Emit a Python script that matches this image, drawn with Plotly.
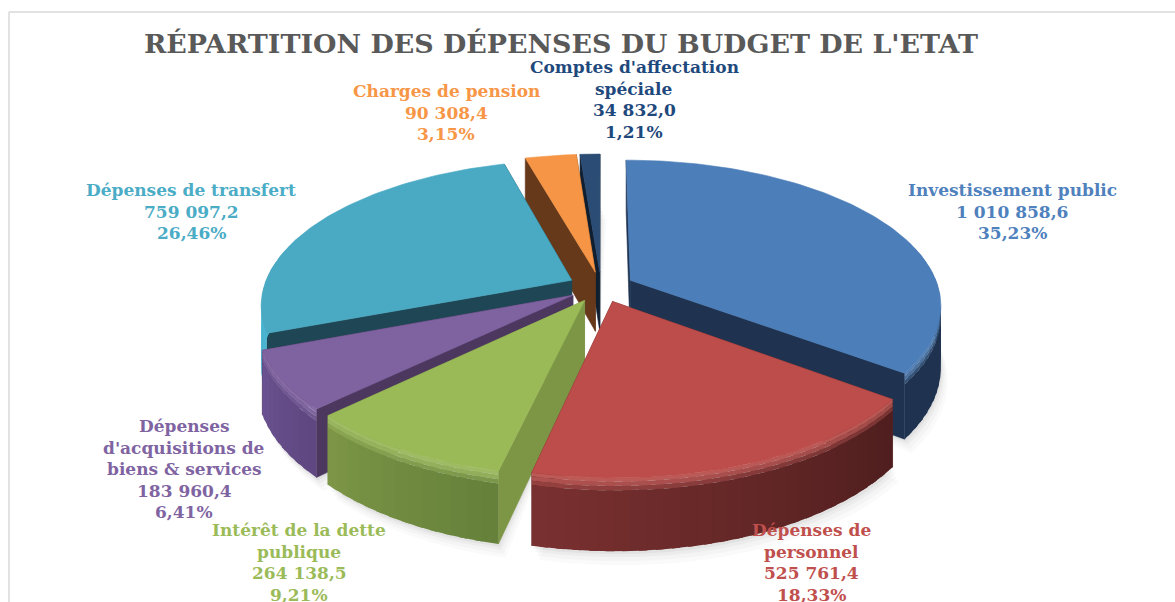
import math
import plotly.graph_objects as go

# ---- data ----
categories = ["Investissement public", "Dépenses de personnel", "Intérêt de la dette publique",
              "Dépenses d'acquisitions de biens & services", "Dépenses de transfert",
              "Charges de pension", "Comptes d'affectation spéciale"]
values = [1010858.6, 525761.4, 264138.5, 183960.4, 759097.2, 90308.4, 34832.0]
percents = [35.23, 18.33, 9.21, 6.41, 26.46, 3.15, 1.21]
title_text = "RÉPARTITION DES DÉPENSES DU BUDGET DE L'ETAT"

# ---- label wrapping and layout (not data) ----
name_lines = [["Investissement public"], ["Dépenses de", "personnel"], ["Intérêt de la dette", "publique"],
              ["Dépenses", "d'acquisitions de", "biens & services"], ["Dépenses de transfert"],
              ["Charges de pension"], ["Comptes d'affectation", "spéciale"]]
label_xy = [(1012, 190), (811, 530), (299, 530), (184, 426), (191, 190), (446, 91), (634, 67)]
LINE_H = 21.5
FONT = "DejaVu Serif"
LABEL_SIZE = 17
top_col = ["#4c7eb9", "#bd4d4a", "#9aba58", "#7f62a0", "#4aa9c3", "#f59545", "#2b4c74"]
label_col = ["#4f81bd", "#c0504d", "#9bbb59", "#8064a2", "#4bacc6", "#f79646", "#1f497d"]
wall_col = ["#1f3350", "#5a2423", "#7d9646", "#4c385f", "#1f4654", "#66391b", "#0f1f30"]
rim_l = ["#1f3350", "#7a3030", "#7d9646", "#6b5291", "#4bb4d0", "#66391b", "#0f1f30"]
rim_r = ["#1f3350", "#4f1e1e", "#64803a", "#5e4780", "#4bb4d0", "#66391b", "#0f1f30"]
draw_order = [0, 6, 5, 4, 3, 2, 1]

CX, CY = 601, 287
R, Q, K = 308, 0.461, 0.165
EXPLODE = 33
DEPTH = 60


def proj(px, pv, down=0.0):
    f = 1 / (1 - K * pv / R)
    return CX + px * f, CY + pv * Q * f + down * DEPTH * f


def plane(theta, mid, r=R):
    ex, ev = EXPLODE * math.sin(mid), -EXPLODE * math.cos(mid)
    return ex + r * math.sin(theta), ev - r * math.cos(theta)


def hex2rgb(h):
    return tuple(int(h[i:i + 2], 16) for i in (1, 3, 5))


def mix(a, b, t):
    a, b = hex2rgb(a), hex2rgb(b)
    return "#%02x%02x%02x" % tuple(round(a[i] + (b[i] - a[i]) * t) for i in range(3))


def poly(fig, pts, color, width=0.6):
    xs = [p[0] for p in pts] + [pts[0][0]]
    ys = [p[1] for p in pts] + [pts[0][1]]
    fig.add_trace(go.Scatter(x=xs, y=ys, mode="lines", fill="toself", fillcolor=color,
                             line=dict(color=color, width=width),
                             hoverinfo="skip", showlegend=False))


total = sum(values)
angles = []
c = 0.0
for v in values:
    a0 = c / total * 2 * math.pi
    c += v
    angles.append((a0, c / total * 2 * math.pi))

fig = go.Figure()

# soft shadow beneath the pie
for i in draw_order:
    a0, a1 = angles[i]
    mid = (a0 + a1) / 2
    n = max(3, int((a1 - a0) / math.radians(4)))
    ths = [a0 + (a1 - a0) * j / n for j in range(n + 1)]
    for off, alpha in ((14, 0.018), (10, 0.022), (6, 0.03), (3, 0.04)):
        rim = [proj(*plane(t, mid), 1.0) for t in ths]
        pts = [(x + off * 0.5, y + off) for x, y in rim] + [proj(*plane(0, mid, 0), 1.0)]
        fig.add_trace(go.Scatter(x=[p[0] for p in pts] + [pts[0][0]], y=[p[1] for p in pts] + [pts[0][1]],
                                 mode="lines", fill="toself", fillcolor=f"rgba(0,0,0,{alpha})",
                                 line=dict(width=0), hoverinfo="skip", showlegend=False))

# vertical layers of the outer rim: (from, to, share of the highlight)
rim_layers = [(0.0, 0.05, 0.9), (0.05, 0.11, 0.7), (0.11, 0.17, 0.35), (0.17, 1.0, 0.0)]

for i in draw_order:
    a0, a1 = angles[i]
    mid = (a0 + a1) / 2
    apex = plane(0, mid, 0)
    # end wall, then start wall
    for th in (a1, a0):
        e = plane(th, mid)
        poly(fig, [proj(*apex), proj(*e), proj(*e, 1.0), proj(*apex, 1.0)], wall_col[i])
    # outer rim, banded so that it shades from left to right
    n = max(3, int((a1 - a0) / math.radians(2.5)))
    step = (a1 - a0) / n
    ths = [a0 + step * j for j in range(n + 1)]
    hi = mix(top_col[i], "#ffffff", 0.1)
    for j in range(n):
        t0, t1 = ths[j], ths[j + 1]
        if math.cos((t0 + t1) / 2) > 0.3:
            continue
        shade = mix(rim_r[i], rim_l[i], (j + 0.5) / n)
        # each band runs under the next one, so that no seam shows between them
        t1x = t1 + step * 0.5 if j < n - 1 else t1
        p0, p1 = plane(t0, mid), plane(t1x, mid)
        for d0, d1, share in rim_layers:
            poly(fig, [proj(*p0, d0), proj(*p1, d0), proj(*p1, d1), proj(*p0, d1)],
                 mix(shade, hi, share), width=0)
    # top face
    n2 = n * 2
    arc = [proj(*plane(a0 + (a1 - a0) * j / n2, mid)) for j in range(n2 + 1)]
    poly(fig, [proj(*apex)] + arc, top_col[i])

annotations = []


def put(text, x, y, size, color):
    annotations.append(dict(x=x, y=y, xref="x", yref="y", text=text, showarrow=False,
                            xanchor="center", yanchor="middle",
                            font=dict(family=FONT, size=size, color=color, weight="bold")))


put(title_text, 561, 43, 26.9, "#595959")
for i in range(len(categories)):
    lx, ly = label_xy[i]
    val = f"{values[i]:,.1f}".replace(",", " ").replace(".", ",")
    pct = f"{percents[i]:.2f}".replace(".", ",") + "%"
    for k, line in enumerate(name_lines[i] + [val, pct]):
        put(line, lx, ly + k * LINE_H, LABEL_SIZE, label_col[i])

frame = dict(color="#d9d9d9", width=1.5)
fig.update_layout(
    width=1175, height=602, margin=dict(l=0, r=0, t=0, b=0),
    paper_bgcolor="white", plot_bgcolor="white", showlegend=False, hovermode=False,
    xaxis=dict(range=[0, 1175], visible=False, fixedrange=True),
    yaxis=dict(range=[602, 0], visible=False, fixedrange=True),
    annotations=annotations,
    shapes=[dict(type="line", xref="x", yref="y", x0=9, x1=9, y0=12, y1=602, line=frame),
            dict(type="line", xref="x", yref="y", x0=9, x1=1175, y0=12, y1=12, line=frame)],
)
fig.write_html("out.html", config={"displayModeBar": False},
               post_script="document.body.style.margin='0';document.documentElement.style.overflow='hidden';")
